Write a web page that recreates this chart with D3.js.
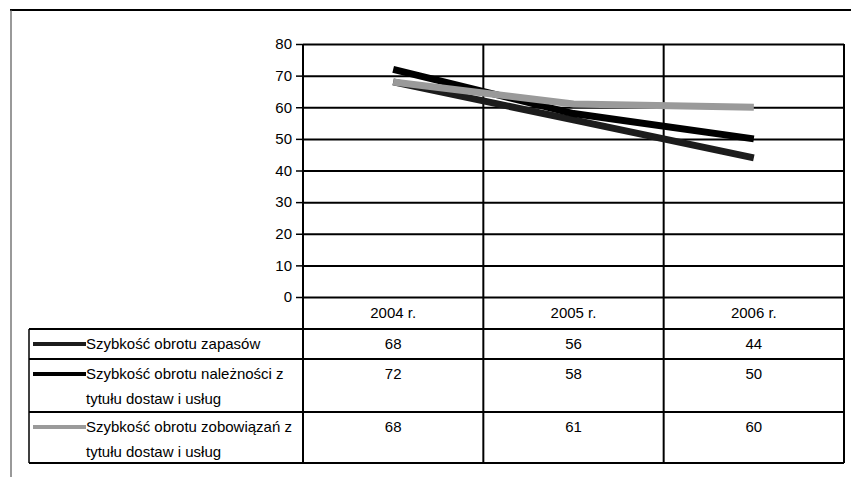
<!DOCTYPE html>
<html>
<head>
<meta charset="utf-8">
<script src="https://cdn.jsdelivr.net/npm/d3@7"></script>
<style>
  html, body { margin: 0; padding: 0; background: #fff; }
  svg { display: block; }
  text { font-family: "Liberation Sans", Arial, sans-serif; font-size: 15px; fill: #000; }
</style>
</head>
<body>
<svg id="chart" width="851" height="477"></svg>
<script>
// ---- data ----
const categories = ["2004 r.", "2005 r.", "2006 r."];
const seriesNames = [
  ["Szybkość obrotu zapasów"],
  ["Szybkość obrotu należności z", "tytułu dostaw i usług"],
  ["Szybkość obrotu zobowiązań z", "tytułu dostaw i usług"]
];
const zapasy = [68, 56, 44];
const naleznosci = [72, 58, 50];
const zobowiazania = [68, 61, 60];
const yTicks = [0, 10, 20, 30, 40, 50, 60, 70, 80];

const seriesValues = [zapasy, naleznosci, zobowiazania];
const seriesColors = ["#1c1c1c", "#000000", "#9a9a9a"];

// ---- layout ----
const svg = d3.select("#chart");
const plotLeft = 303, plotRight = 844, plotTop = 44, plotBottom = 297;
const tableLeft = 29;
const rowTops = [329, 359, 412];
const rowBottoms = [359, 412, 463];

const x = d3.scaleBand().domain(categories).range([plotLeft, plotRight]).padding(0);
const y = d3.scaleLinear().domain([0, 80]).range([plotBottom, plotTop]);

// outer frame
svg.append("line").attr("x1", 10).attr("y1", 10).attr("x2", 851).attr("y2", 10)
  .attr("stroke", "#000").attr("stroke-width", 2);
svg.append("line").attr("x1", 11).attr("y1", 10).attr("x2", 11).attr("y2", 477)
  .attr("stroke", "#555").attr("stroke-width", 1.2);

// horizontal gridlines + y axis
const yAxis = d3.axisLeft(y).tickValues(yTicks).tickSize(7).tickPadding(4).tickSizeOuter(0);
const gy = svg.append("g").attr("transform", `translate(${plotLeft},0)`).call(yAxis);
gy.select(".domain").remove();
gy.selectAll(".tick line").attr("stroke", "#000").attr("stroke-width", 1.5);
gy.selectAll(".tick text").attr("font-size", 15).attr("font-family", '"Liberation Sans", Arial, sans-serif').attr("fill", "#000");

const grid = d3.axisLeft(y).tickValues(yTicks).tickSize(-(plotRight - plotLeft)).tickFormat("");
const gg = svg.append("g").attr("transform", `translate(${plotLeft},0)`).call(grid);
gg.select(".domain").remove();
gg.selectAll(".tick line").attr("stroke", "#000").attr("stroke-width", 2);

// vertical lines (category borders) through plot and table
const borders = categories.map(c => x(c)).concat([plotRight]);
svg.append("g").selectAll("line").data(borders).join("line")
  .attr("x1", d => d).attr("x2", d => d)
  .attr("y1", plotTop).attr("y2", rowBottoms[2])
  .attr("stroke", "#000").attr("stroke-width", 2);

// category row
svg.append("g").selectAll("text").data(categories).join("text")
  .attr("x", d => x(d) + x.bandwidth() / 2)
  .attr("y", (plotBottom + rowTops[0]) / 2 + 5)
  .attr("text-anchor", "middle")
  .text(d => d);

// table horizontal lines
const hLines = rowTops.concat([rowBottoms[2]]);
svg.append("g").selectAll("line").data(hLines).join("line")
  .attr("x1", tableLeft).attr("x2", plotRight)
  .attr("y1", d => d).attr("y2", d => d)
  .attr("stroke", "#000").attr("stroke-width", 2);
svg.append("line").attr("x1", tableLeft).attr("x2", tableLeft)
  .attr("y1", rowTops[0]).attr("y2", rowBottoms[2])
  .attr("stroke", "#000").attr("stroke-width", 1.5);

// table rows
seriesValues.forEach((vals, i) => {
  const top = rowTops[i];
  const g = svg.append("g");
  // legend swatch
  g.append("line").attr("x1", 33).attr("x2", 86)
    .attr("y1", top + 15).attr("y2", top + 15)
    .attr("stroke", seriesColors[i]).attr("stroke-width", 4);
  // legend text
  g.selectAll("text.name").data(seriesNames[i]).join("text")
    .attr("class", "name")
    .attr("x", 86)
    .attr("y", (d, j) => top + 20 + j * 25)
    .text(d => d);
  // values
  g.selectAll("text.val").data(vals).join("text")
    .attr("class", "val")
    .attr("x", (d, j) => x(categories[j]) + x.bandwidth() / 2)
    .attr("y", top + 20)
    .attr("text-anchor", "middle")
    .text(d => d);
});

// series lines
const line = d3.line()
  .x((d, i) => x(categories[i]) + x.bandwidth() / 2)
  .y(d => y(d));
seriesValues.forEach((vals, i) => {
  svg.append("path").datum(vals)
    .attr("d", line)
    .attr("fill", "none")
    .attr("stroke", seriesColors[i])
    .attr("stroke-width", 7);
});
</script>
</body>
</html>
